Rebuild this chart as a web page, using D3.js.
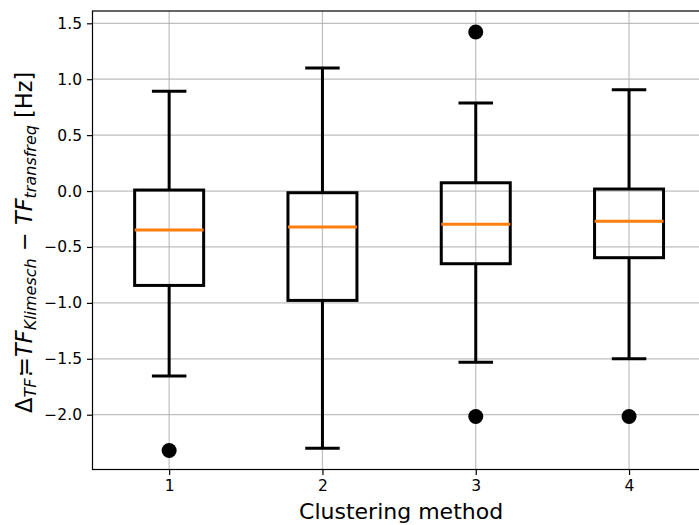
<!DOCTYPE html>
<html>
<head>
<meta charset="utf-8">
<script src="https://cdn.jsdelivr.net/npm/d3@7"></script>
<style>
  html, body { margin: 0; padding: 0; background: #ffffff; }
  svg { display: block; }
  text { font-family: "DejaVu Sans", sans-serif; fill: #000; }
</style>
</head>
<body>
<div id="chart"></div>
<script>
// Box statistics per clustering method
const methods  = [1, 2, 3, 4];
const whiskLo  = [-1.655, -2.300, -1.532, -1.500];
const q1       = [-0.844, -0.978, -0.650, -0.596];
const medians  = [-0.349, -0.322, -0.298, -0.271];
const q3       = [ 0.009, -0.015,  0.074,  0.018];
const whiskHi  = [ 0.892,  1.100,  0.787,  0.906];
const fliers   = [[-2.320], [], [1.422, -2.016], [-2.016]];
const yTicks   = [-2.0, -1.5, -1.0, -0.5, 0.0, 0.5, 1.0, 1.5];

const W = 699, H = 525;
const margin = { left: 92.5, top: 11, right: -6.7, bottom: 55.5 };
const plotW = W - margin.left - margin.right;
const plotH = H - margin.top - margin.bottom;

const svg = d3.select("#chart").append("svg")
  .attr("width", W).attr("height", H);

const x = d3.scaleLinear().domain([0.5, 4.5]).range([margin.left, margin.left + plotW]);
const y = d3.scaleLinear().domain([-2.49, 1.61]).range([margin.top + plotH, margin.top]);

const boxW = 0.45, capW = 0.225;

// grid
const grid = svg.append("g");
grid.selectAll("line.gy").data(yTicks).join("line")
  .attr("x1", margin.left).attr("x2", margin.left + plotW)
  .attr("y1", d => y(d)).attr("y2", d => y(d))
  .attr("stroke", "#b0b0b0").attr("stroke-width", 1.2).attr("opacity", 0.8);
grid.selectAll("line.gx").data(methods).join("line")
  .attr("y1", margin.top).attr("y2", margin.top + plotH)
  .attr("x1", d => x(d)).attr("x2", d => x(d))
  .attr("stroke", "#b0b0b0").attr("stroke-width", 1.2).attr("opacity", 0.8);

// axes
const yAxis = d3.axisLeft(y).tickValues(yTicks)
  .tickFormat(d => d3.format(".1f")(d).replace("-", "\u2212"))
  .tickSize(5.5).tickPadding(5);
const gy = svg.append("g").attr("transform", `translate(${margin.left},0)`).call(yAxis);
const xAxis = d3.axisBottom(x).tickValues(methods).tickFormat(d3.format("d"))
  .tickSize(5.5).tickPadding(5);
const gx = svg.append("g").attr("transform", `translate(0,${margin.top + plotH})`).call(xAxis);
[gx, gy].forEach(g => {
  g.select(".domain").remove();
  g.selectAll(".tick line").attr("stroke", "#000").attr("stroke-width", 1.2);
  g.selectAll(".tick text").attr("font-size", 15.5).attr("font-family", "DejaVu Sans");
});

// boxes
const boxes = svg.append("g");
methods.forEach((m, i) => {
  const g = boxes.append("g");
  const line = (x1, y1, x2, y2, col) => g.append("line")
    .attr("x1", x1).attr("y1", y1).attr("x2", x2).attr("y2", y2)
    .attr("stroke", col || "#000").attr("stroke-width", 3);
  // whiskers
  line(x(m), y(q3[i]), x(m), y(whiskHi[i]));
  line(x(m), y(q1[i]), x(m), y(whiskLo[i]));
  // caps
  line(x(m - capW / 2), y(whiskHi[i]), x(m + capW / 2), y(whiskHi[i]));
  line(x(m - capW / 2), y(whiskLo[i]), x(m + capW / 2), y(whiskLo[i]));
  // box
  g.append("rect")
    .attr("x", x(m - boxW / 2)).attr("y", y(q3[i]))
    .attr("width", x(m + boxW / 2) - x(m - boxW / 2))
    .attr("height", y(q1[i]) - y(q3[i]))
    .attr("fill", "none").attr("stroke", "#000").attr("stroke-width", 3);
  // median
  line(x(m - boxW / 2), y(medians[i]), x(m + boxW / 2), y(medians[i]), "#ff7f0e");
  // outliers
  g.selectAll("circle").data(fliers[i]).join("circle")
    .attr("cx", x(m)).attr("cy", d => y(d)).attr("r", 7.5).attr("fill", "#000");
});

// spines
svg.append("rect")
  .attr("x", margin.left).attr("y", margin.top)
  .attr("width", plotW).attr("height", plotH)
  .attr("fill", "none").attr("stroke", "#000").attr("stroke-width", 1.2);

// x label
svg.append("text")
  .attr("x", margin.left + plotW / 2 + 2).attr("y", 519)
  .attr("text-anchor", "middle").attr("font-size", 22)
  .text("Clustering method");

// y label with math-style subscripts
const yl = svg.append("text")
  .attr("transform", `translate(32,${margin.top + plotH / 2 + 2}) rotate(-90)`)
  .attr("text-anchor", "middle").attr("font-size", 22.5);
yl.append("tspan").text("\u0394");
yl.append("tspan").attr("font-style", "italic").attr("font-size", 16).attr("dy", 4).text("TF");
yl.append("tspan").attr("dy", -4).attr("dx", 1).text(":");
yl.append("tspan").attr("dx", -6).text("=");
yl.append("tspan").attr("font-style", "italic").text("TF");
yl.append("tspan").attr("font-style", "italic").attr("font-size", 16).attr("dy", 4).text("Klimesch");
yl.append("tspan").attr("dy", -4).text(" \u2212 ");
yl.append("tspan").attr("font-style", "italic").text("TF");
yl.append("tspan").attr("font-style", "italic").attr("font-size", 16).attr("dy", 4).text("transfreq");
yl.append("tspan").attr("dy", -4).text(" [Hz]");
</script>
</body>
</html>
